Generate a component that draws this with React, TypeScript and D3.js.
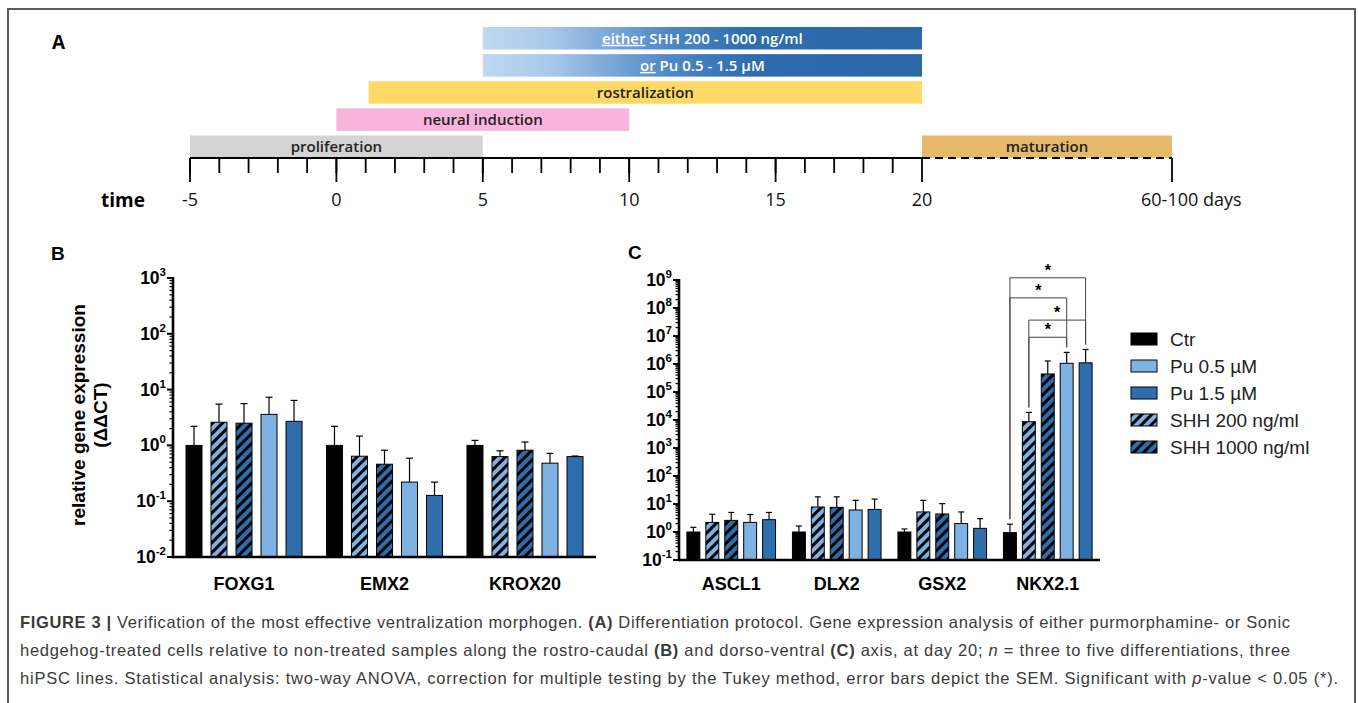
import React from "react";
import * as d3 from "d3";

// ---- panel A: differentiation protocol ----
const dayTicks = [-5, 0, 5, 10, 15, 20, 60];
const dayTickLabels = ["-5", "0", "5", "10", "15", "20", "60-100 days"];
const phaseUnderlined = ["either", "or", "", "", "", ""];
const phaseLabels = [" SHH 200 - 1000 ng/ml", " Pu 0.5 - 1.5 µM", "rostralization", "neural induction", "proliferation", "maturation"];
const phaseStart = [5, 5, 1.1, 0, -5, 20];
const phaseEnd = [20, 20, 20, 10, 5, 60];
const phaseRow = [0, 1, 2, 3, 4, 4];

// ---- panels B and C: relative expression (ΔΔCT) ----
const seriesNames = ["Ctr", "SHH 200 ng/ml", "SHH 1000 ng/ml", "Pu 0.5 µM", "Pu 1.5 µM"];
const legendOrder = [0, 3, 4, 1, 2];

const genesB = ["FOXG1", "EMX2", "KROX20"];
const ctrB = [1.0, 1.0, 1.0];
const ctrBErr = [2.2, 2.2, 1.23];
const shh200B = [2.6, 0.64, 0.63];
const shh200BErr = [5.5, 1.47, 0.8];
const shh1000B = [2.5, 0.46, 0.82];
const shh1000BErr = [5.6, 0.82, 1.15];
const pu05B = [3.6, 0.22, 0.48];
const pu05BErr = [7.3, 0.59, 0.72];
const pu15B = [2.7, 0.127, 0.63];
const pu15BErr = [6.4, 0.22, 0.645];

const genesC = ["ASCL1", "DLX2", "GSX2", "NKX2.1"];
const ctrC = [1.0, 1.0, 1.0, 0.95];
const ctrCErr = [1.47, 1.64, 1.28, 1.9];
const shh200C = [2.2, 7.8, 5.2, 8700];
const shh200CErr = [4.3, 18, 13.5, 18700];
const shh1000C = [2.6, 7.6, 4.4, 440000];
const shh1000CErr = [5.0, 18, 10.3, 1280000];
const pu05C = [2.2, 6.1, 2.0, 1060000];
const pu05CErr = [4.2, 13.5, 5.2, 2600000];
const pu15C = [2.75, 6.4, 1.35, 1100000];
const pu15CErr = [5.0, 15, 3.0, 3300000];

// significance brackets in NKX2.1 (series index pairs, bracket level)
const sigFrom = [0, 0, 1, 1];
const sigTo = [4, 3, 4, 3];
const sigLevel = [1.2e9, 2.3e8, 3.7e7, 9e6];

const lightBlue = "#7db2e2";
const darkBlue = "#2f6eac";
const seriesFill = ["#000", "url(#hatchLight)", "url(#hatchDark)", lightBlue, darkBlue];
const phaseFill = ["url(#blueGrad)", "url(#blueGrad)", "#ffd966", "#f8b4dc", "#d4d4d4", "#e6b96c"];
const phaseText = ["#fff", "#fff", "#222", "#222", "#222", "#222"];

const arial = "'Liberation Sans', Arial, sans-serif";
const calibri = "'Open Sans', 'Noto Sans', sans-serif";

function BarPanel(props: any) {
  const { genes, means, errs, xRange, yDomain, yRange, inner, outer, barPad, capW } = props;
  const x = d3.scaleBand().domain(genes).range(xRange).paddingInner(inner).paddingOuter(outer);
  const xs = d3.scaleBand<number>().domain(d3.range(seriesNames.length)).range([0, x.bandwidth()]).paddingInner(barPad);
  const y = d3.scaleLog().domain(yDomain).range(yRange);
  const e0 = Math.round(Math.log10(yDomain[0]));
  const e1 = Math.round(Math.log10(yDomain[1]));
  const majors = d3.range(e0, e1 + 1);
  const minors = d3.range(e0, e1).flatMap((e) => d3.range(2, 10).map((m) => m * Math.pow(10, e)));
  const ax = xRange[0];
  const base = yRange[0];
  const cx = (g: string, s: number) => (x(g) as number) + (xs(s) as number) + xs.bandwidth() / 2;

  return (
    <g>
      {genes.map((g: string, gi: number) =>
        seriesNames.map((s, si) => {
          const v = means[si][gi];
          const bx = (x(g) as number) + (xs(si) as number);
          const top = y(v);
          const et = y(errs[si][gi]);
          const c = bx + xs.bandwidth() / 2;
          return (
            <g key={g + s}>
              <line x1={c} x2={c} y1={top} y2={et} stroke="#000" strokeWidth={1.2} />
              <line x1={c - capW / 2} x2={c + capW / 2} y1={et} y2={et} stroke="#000" strokeWidth={1.2} />
              <rect x={bx} y={top} width={xs.bandwidth()} height={base - top}
                fill={seriesFill[si]} stroke="#000" strokeWidth={1} />
            </g>
          );
        })
      )}
      {/* y axis */}
      <line x1={ax} x2={ax} y1={yRange[1] - 1} y2={base + 1.2} stroke="#000" strokeWidth={2.6} />
      {minors.map((m) => (
        <line key={"mn" + m} x1={ax - 3.5} x2={ax} y1={y(m)} y2={y(m)} stroke="#000" strokeWidth={1.2} />
      ))}
      {majors.map((e) => (
        <g key={"mj" + e}>
          <line x1={ax - 6} x2={ax} y1={y(Math.pow(10, e))} y2={y(Math.pow(10, e))} stroke="#000" strokeWidth={2} />
          <text x={ax - 7} y={y(Math.pow(10, e)) + 6} textAnchor="end" fontFamily={arial} fontWeight="bold" fontSize={17.5}>
            10<tspan fontSize={11.5} dy={-8}>{e}</tspan>
          </text>
        </g>
      ))}
      {/* x axis */}
      <line x1={ax} x2={xRange[1]} y1={base} y2={base} stroke="#000" strokeWidth={2.6} />
      {genes.map((g: string) => (
        <text key={"gl" + g} x={(x(g) as number) + x.bandwidth() / 2} y={590} textAnchor="middle"
          fontFamily={arial} fontWeight="bold" fontSize={18}>{g}</text>
      ))}
      {props.brackets &&
        sigFrom.map((a, i) => {
          const g = props.brackets;
          const b = sigTo[i];
          const ly = y(sigLevel[i]);
          const xa = cx(g, a);
          const xb = cx(g, b);
          const gi = genes.indexOf(g);
          return (
            <g key={"sig" + i} stroke="#444" strokeWidth={1} fill="none">
              <path d={`M${xa},${y(errs[a][gi]) - 5}V${ly}H${xb}V${y(errs[b][gi]) - 5}`} />
              <text x={(xa + xb) / 2} y={ly - 2} textAnchor="middle" fontFamily={arial} fontWeight="bold"
                fontSize={16} fill="#000" stroke="none">*</text>
            </g>
          );
        })}
    </g>
  );
}

export default function App() {
  const tx = d3.scaleLinear().domain([-5, 20, 60]).range([190, 922, 1172]);
  const row = d3.scaleBand<number>().domain(d3.range(5)).range([27, 158]).paddingInner(0.17);
  const axisY = 158;
  const minorDays = d3.range(-5, 20);

  const meansB = [ctrB, shh200B, shh1000B, pu05B, pu15B];
  const errsB = [ctrBErr, shh200BErr, shh1000BErr, pu05BErr, pu15BErr];
  const meansC = [ctrC, shh200C, shh1000C, pu05C, pu15C];
  const errsC = [ctrCErr, shh200CErr, shh1000CErr, pu05CErr, pu15CErr];

  const legendRow = d3.scalePoint<number>().domain(d3.range(5)).range([339, 447]);

  return (
    <div style={{ position: "absolute", left: 0, top: 0 }}>
      <svg width={1358} height={703} style={{ display: "block", background: "#fff" }}>
        <defs>
          <linearGradient id="blueGrad" x1="0" x2="1" y1="0" y2="0">
            <stop offset="0" stopColor="#c0d8f0" />
            <stop offset="0.15" stopColor="#a9c9ea" />
            <stop offset="0.42" stopColor="#4f89c7" />
            <stop offset="0.6" stopColor="#2f6dae" />
            <stop offset="1" stopColor="#2c67a7" />
          </linearGradient>
          <pattern id="hatchLight" patternUnits="userSpaceOnUse" width={7} height={7} patternTransform="rotate(45)">
            <rect width={7} height={7} fill={lightBlue} />
            <rect width={3} height={7} fill="#000" />
          </pattern>
          <pattern id="hatchDark" patternUnits="userSpaceOnUse" width={7} height={7} patternTransform="rotate(45)">
            <rect width={7} height={7} fill={darkBlue} />
            <rect width={3} height={7} fill="#000" />
          </pattern>
        </defs>

        {/* frame */}
        <path d="M8,703V9H1355V703" fill="none" stroke="#5c5c5c" strokeWidth={2} />

        {/* ---------- A ---------- */}
        <text x={52} y={49} fontFamily={calibri} fontWeight="bold" fontSize={19}>A</text>
        {phaseLabels.map((lab, i) => {
          const x0 = tx(phaseStart[i]);
          const x1 = tx(phaseEnd[i]);
          const ry = row(phaseRow[i]) as number;
          return (
            <g key={"ph" + i}>
              <rect x={x0} y={ry} width={x1 - x0} height={row.bandwidth()} fill={phaseFill[i]} />
              <text x={(x0 + x1) / 2} y={ry + row.bandwidth() / 2 + 5.5} textAnchor="middle" fontFamily={calibri}
                fontWeight={600} fontSize={15} fill={phaseText[i]}>
                {phaseUnderlined[i] && <tspan textDecoration="underline">{phaseUnderlined[i]}</tspan>}
                {lab}
              </text>
            </g>
          );
        })}
        <line x1={tx(-5)} x2={tx(20)} y1={axisY} y2={axisY} stroke="#000" strokeWidth={2} />
        <line x1={tx(20)} x2={tx(60)} y1={axisY} y2={axisY} stroke="#000" strokeWidth={2} strokeDasharray="8,5" />
        {minorDays.map((d) => (
          <line key={"md" + d} x1={tx(d)} x2={tx(d)} y1={axisY} y2={axisY + 15} stroke="#000" strokeWidth={1.8} />
        ))}
        {dayTicks.map((d, i) => (
          <g key={"dt" + d}>
            <line x1={tx(d)} x2={tx(d)} y1={axisY} y2={axisY + 24} stroke="#000" strokeWidth={1.8} />
            <text x={i === dayTicks.length - 1 ? tx(d) - 31 : tx(d)} y={206}
              textAnchor={i === dayTicks.length - 1 ? "start" : "middle"}
              fontFamily={calibri} fontSize={18} fill="#111">{dayTickLabels[i]}</text>
          </g>
        ))}
        <text x={145} y={207} textAnchor="end" fontFamily={calibri} fontWeight="bold" fontSize={19}>time</text>

        {/* ---------- B ---------- */}
        <text x={51} y={260} fontFamily={arial} fontWeight="bold" fontSize={19}>B</text>
        <g transform="translate(85,415) rotate(-90)">
          <text textAnchor="middle" fontFamily={arial} fontWeight="bold" fontSize={19}>relative gene expression</text>
          <text y={22} textAnchor="middle" fontFamily={arial} fontWeight="bold" fontSize={19}>(ΔΔCT)</text>
        </g>
        <BarPanel genes={genesB} means={meansB} errs={errsB} xRange={[173, 596]} yDomain={[1e-2, 1e3]}
          yRange={[557, 278]} inner={0.174} outer={0.0925} barPad={0.36} capW={7} />

        {/* ---------- C ---------- */}
        <text x={628} y={259} fontFamily={arial} fontWeight="bold" fontSize={19}>C</text>
        <BarPanel genes={genesC} means={meansC} errs={errsC} xRange={[679, 1100]} yDomain={[1e-1, 1e9]}
          yRange={[560, 280]} inner={0.16} outer={0.075} barPad={0.316} capW={6} brackets="NKX2.1" />

        {/* legend */}
        {legendOrder.map((si, k) => {
          const ly = legendRow(k) as number;
          return (
            <g key={"lg" + si}>
              <rect x={1131} y={ly - 6} width={26} height={12} fill={seriesFill[si]} stroke="#000" strokeWidth={1} />
              <text x={1170} y={ly + 7} fontFamily={arial} fontSize={19} fill="#222">{seriesNames[si]}</text>
            </g>
          );
        })}

        {/* caption */}
        <g fontFamily={arial} fontSize={16.5} fill="#3a3a3a">
          <text x={20} y={628} textLength={1270} lengthAdjust="spacing">
            <tspan fontWeight="bold">FIGURE 3 | </tspan>Verification of the most effective ventralization morphogen.{" "}
            <tspan fontWeight="bold">(A)</tspan> Differentiation protocol. Gene expression analysis of either purmorphamine- or Sonic
          </text>
          <text x={20} y={656} textLength={1270} lengthAdjust="spacing">
            hedgehog-treated cells relative to non-treated samples along the rostro-caudal{" "}
            <tspan fontWeight="bold">(B)</tspan> and dorso-ventral <tspan fontWeight="bold">(C)</tspan> axis, at day 20;{" "}
            <tspan fontStyle="italic">n</tspan> = three to five differentiations, three
          </text>
          <text x={20} y={684} textLength={1318} lengthAdjust="spacing">
            hiPSC lines. Statistical analysis: two-way ANOVA, correction for multiple testing by the Tukey method, error bars depict the SEM. Significant with{" "}
            <tspan fontStyle="italic">p</tspan>-value {"<"} 0.05 (*).
          </text>
        </g>
      </svg>
    </div>
  );
}
